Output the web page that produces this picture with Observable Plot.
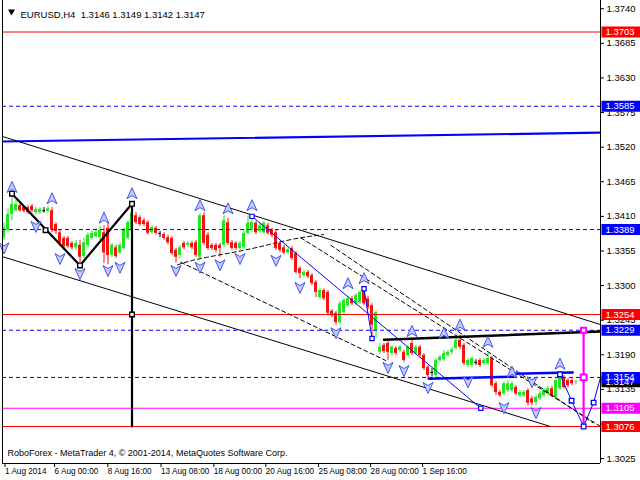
<!DOCTYPE html>
<html><head><meta charset="utf-8">
<script src="https://cdn.jsdelivr.net/npm/d3@7"></script>
<script src="https://cdn.jsdelivr.net/npm/@observablehq/plot@0.6"></script>
<style>body{margin:0;background:#fff} #chart svg{display:block}</style>
</head><body><div id="chart"></div>
<script>
// ---- data (EURUSD H4, bar index 0 = 1 Aug 2014 00:00) ----
const opens = [1.3376,1.3388,1.3413,1.3419,1.3427,1.3424,1.3424,1.3426,1.3416,1.3416,
1.3419,1.3418,1.3419,1.3397,1.3384,1.3375,1.3375,1.3367,1.3360,1.3364,
1.3346,1.3364,1.3375,1.3378,1.3376,1.3384,1.3391,1.3348,1.3360,1.3352,
1.3359,1.3375,1.3388,1.3411,1.3408,1.3403,1.3400,1.3384,1.3391,1.3383,
1.3381,1.3376,1.3375,1.3356,1.3348,1.3367,1.3364,1.3367,1.3368,1.3345,
1.3411,1.3380,1.3364,1.3364,1.3364,1.3364,1.3400,1.3368,1.3367,1.3359,
1.3360,1.3383,1.3388,1.3399,1.3386,1.3384,1.3395,1.3388,1.3384,1.3367,
1.3360,1.3352,1.3359,1.3351,1.3327,1.3316,1.3321,1.3316,1.3305,1.3281,
1.3292,1.3289,1.3259,1.3256,1.3241,1.3257,1.3268,1.3279,1.3271,1.3273,
1.3292,1.3279,1.3268,1.3229,1.3194,1.3205,1.3208,1.3192,1.3200,1.3197,
1.3194,1.3189,1.3208,1.3192,1.3202,1.3189,1.3170,1.3162,1.3157,1.3181,
1.3182,1.3189,1.3194,1.3200,1.3213,1.3205,1.3173,1.3173,1.3178,1.3181,
1.3176,1.3176,1.3184,1.3144,1.3130,1.3128,1.3133,1.3133,1.3138,1.3125,
1.3125,1.3133,1.3120,1.3114,1.3120,1.3125,1.3128,1.3136,1.3122,1.3136,
1.3154,1.3149,1.3149,1.3146];
const highs = [1.3400,1.3422,1.3446,1.3435,1.3430,1.3427,1.3427,1.3429,1.3424,1.3424,
1.3424,1.3426,1.3424,1.3400,1.3388,1.3378,1.3378,1.3370,1.3372,1.3372,
1.3375,1.3384,1.3388,1.3391,1.3394,1.3395,1.3400,1.3367,1.3364,1.3367,
1.3392,1.3403,1.3430,1.3416,1.3411,1.3407,1.3403,1.3395,1.3394,1.3386,
1.3384,1.3380,1.3378,1.3359,1.3364,1.3370,1.3370,1.3370,1.3372,1.3415,
1.3416,1.3384,1.3367,1.3367,1.3367,1.3411,1.3407,1.3372,1.3370,1.3370,
1.3388,1.3411,1.3410,1.3402,1.3399,1.3402,1.3399,1.3391,1.3388,1.3370,
1.3364,1.3360,1.3362,1.3354,1.3330,1.3324,1.3324,1.3319,1.3308,1.3295,
1.3295,1.3292,1.3262,1.3259,1.3275,1.3279,1.3283,1.3283,1.3287,1.3292,
1.3295,1.3283,1.3271,1.3260,1.3208,1.3208,1.3211,1.3205,1.3203,1.3205,
1.3197,1.3205,1.3213,1.3205,1.3205,1.3192,1.3173,1.3168,1.3184,1.3189,
1.3197,1.3197,1.3202,1.3216,1.3221,1.3208,1.3184,1.3187,1.3182,1.3184,
1.3184,1.3194,1.3187,1.3147,1.3133,1.3147,1.3149,1.3147,1.3141,1.3133,
1.3133,1.3136,1.3124,1.3125,1.3132,1.3136,1.3140,1.3140,1.3152,1.3159,
1.3157,1.3152,1.3152,1.3149];
const lows = [1.3372,1.3384,1.3403,1.3416,1.3416,1.3415,1.3413,1.3416,1.3413,1.3413,
1.3415,1.3415,1.3384,1.3381,1.3362,1.3356,1.3359,1.3356,1.3356,1.3336,
1.3343,1.3360,1.3372,1.3375,1.3372,1.3335,1.3333,1.3345,1.3343,1.3349,
1.3356,1.3372,1.3384,1.3397,1.3394,1.3394,1.3380,1.3381,1.3380,1.3376,
1.3372,1.3365,1.3348,1.3336,1.3343,1.3357,1.3360,1.3357,1.3345,1.3341,
1.3364,1.3356,1.3356,1.3352,1.3345,1.3360,1.3364,1.3356,1.3356,1.3356,
1.3357,1.3380,1.3384,1.3381,1.3383,1.3381,1.3380,1.3376,1.3356,1.3352,
1.3349,1.3349,1.3340,1.3318,1.3311,1.3313,1.3311,1.3300,1.3281,1.3278,
1.3276,1.3252,1.3249,1.3237,1.3238,1.3254,1.3265,1.3268,1.3268,1.3270,
1.3268,1.3262,1.3216,1.3216,1.3190,1.3192,1.3181,1.3189,1.3189,1.3194,
1.3178,1.3186,1.3189,1.3189,1.3186,1.3165,1.3152,1.3155,1.3154,1.3178,
1.3179,1.3186,1.3190,1.3197,1.3198,1.3173,1.3170,1.3170,1.3173,1.3170,
1.3173,1.3173,1.3138,1.3125,1.3122,1.3125,1.3130,1.3130,1.3125,1.3122,
1.3122,1.3109,1.3109,1.3109,1.3117,1.3122,1.3125,1.3122,1.3119,1.3133,
1.3135,1.3138,1.3141,1.3142];
const closes = [1.3392,1.3413,1.3429,1.3429,1.3419,1.3418,1.3416,1.3419,1.3421,1.3421,
1.3419,1.3422,1.3388,1.3386,1.3365,1.3362,1.3362,1.3360,1.3367,1.3345,
1.3368,1.3380,1.3383,1.3384,1.3388,1.3352,1.3348,1.3364,1.3346,1.3364,
1.3388,1.3400,1.3415,1.3400,1.3397,1.3397,1.3383,1.3392,1.3383,1.3383,
1.3375,1.3368,1.3351,1.3345,1.3360,1.3360,1.3367,1.3360,1.3348,1.3411,
1.3367,1.3359,1.3359,1.3356,1.3359,1.3403,1.3367,1.3359,1.3359,1.3367,
1.3383,1.3399,1.3400,1.3384,1.3395,1.3399,1.3383,1.3380,1.3359,1.3356,
1.3352,1.3357,1.3343,1.3321,1.3319,1.3321,1.3314,1.3303,1.3289,1.3292,
1.3279,1.3256,1.3252,1.3241,1.3271,1.3276,1.3279,1.3271,1.3284,1.3289,
1.3271,1.3265,1.3237,1.3257,1.3202,1.3195,1.3194,1.3202,1.3192,1.3202,
1.3181,1.3202,1.3192,1.3202,1.3189,1.3168,1.3157,1.3162,1.3181,1.3186,
1.3192,1.3194,1.3198,1.3213,1.3202,1.3176,1.3181,1.3184,1.3178,1.3173,
1.3181,1.3184,1.3141,1.3130,1.3125,1.3144,1.3144,1.3144,1.3128,1.3130,
1.3130,1.3113,1.3113,1.3122,1.3128,1.3133,1.3136,1.3125,1.3149,1.3157,
1.3138,1.3141,1.3144,1.3147];

const xTickIdx = [0, 12.4, 25.7, 39, 52.2, 65.2, 78.4, 91.4, 104.4];
const xTickLabels = ["1 Aug 2014","6 Aug 00:00","8 Aug 16:00","13 Aug 08:00","18 Aug 00:00","20 Aug 16:00","25 Aug 08:00","28 Aug 00:00","1 Sep 16:00"];
const yTicks = [1.3740,1.3685,1.3630,1.3575,1.3520,1.3465,1.3410,1.3355,1.3300,1.3245,1.3190,1.3135,1.3080,1.3025];

const solidLevels = [{p:1.3703,color:"#ff0000"},{p:1.3254,color:"#ff0000"},{p:1.3105,color:"#ff00ff"},{p:1.3076,color:"#ff0000"}];
const dashedLevels = [1.3585, 1.3389, 1.3229, 1.3154];
const priceTags = [
  {p:1.3703,color:"#ff0000"},{p:1.3585,color:"#0000ff"},{p:1.3389,color:"#0000ff"},
  {p:1.3254,color:"#ff0000"},{p:1.3229,color:"#0000ff"},{p:1.3147,color:"#000000"},
  {p:1.3154,color:"#0000ff"},{p:1.3105,color:"#ff00ff"},{p:1.3076,color:"#ff0000"}];

const blueTrend = [{i:-0.375,p:1.3529},{i:149.125,p:1.3543}];
const channelUpper = [{i:-0.375,p:1.3537},{i:149.125,p:1.3238}];
const channelLower = [{i:-0.375,p:1.3346},{i:136.6,p:1.3076}];
const zigzag = [{i:2,p:1.3446},{i:19,p:1.3332},{i:32,p:1.3430},{i:32,p:1.3076}];
const zigzagSquares = [{i:2,p:1.3446},{i:10.4,p:1.3388},{i:19,p:1.3332},{i:32,p:1.3430},{i:32,p:1.3254}];
const arc = [{i:43.4,p:1.3333},{i:49.2,p:1.3343},{i:59.9,p:1.3356},{i:67.4,p:1.3367},{i:74.2,p:1.3376},{i:79.9,p:1.3381}];
const dash1 = [{i:44.2,p:1.3337},{i:95.4,p:1.3181}];
const dash2 = [{i:74.2,p:1.3376},{i:149.125,p:1.3076}];
const dash3 = [{i:81.7,p:1.3364},{i:147.2,p:1.3082}];
const blueThin = [{i:62,p:1.3410},{i:119.2,p:1.3105}];
const blueShort = [{i:90,p:1.3295},{i:92,p:1.3216}];
const blueSquares = [{i:62,p:1.3410},{i:119.2,p:1.3105},{i:90,p:1.3295},{i:92,p:1.3216}];
const forecast = [{i:139,p:1.3159},{i:141.9,p:1.3117},{i:144.9,p:1.3076},{i:147.4,p:1.3114},{i:149.125,p:1.3154}];
const magentaBar = [{i:144.9,p:1.3229},{i:144.9,p:1.3076}];
const magentaSquares = [{i:144.9,p:1.3229,r:2.6},{i:144.9,p:1.3154,r:3.4}];
const blackLevel = [{i:95,p:1.3214},{i:149.125,p:1.3227}];
const blueLevelA = [{i:106.2,p:1.3152},{i:127.2,p:1.3155}];
const blueLevelB = [{i:127.2,p:1.3160},{i:142.2,p:1.3162}];

const fractalUp = [{i:2,p:1.3456},{i:12,p:1.3438},{i:25,p:1.3407},{i:32,p:1.3446},{i:49,p:1.3427},{i:56,p:1.3422},{i:62,p:1.3427},
  {i:86,p:1.3303},{i:90,p:1.3311},{i:102,p:1.3227},{i:110,p:1.3224},{i:114,p:1.3237},{i:121,p:1.3210},{i:127,p:1.3162},{i:139,p:1.3175}];
const fractalDown = [{i:0,p:1.3360},{i:8,p:1.3394},{i:14,p:1.3343},{i:19,p:1.3319},{i:26,p:1.3324},{i:29,p:1.3329},{i:43,p:1.3324},
  {i:49,p:1.3329},{i:54,p:1.3333},{i:59,p:1.3343},{i:68,p:1.3340},{i:74,p:1.3297},{i:83,p:1.3225},{i:96,p:1.3170},{i:100,p:1.3165},
  {i:106,p:1.3138},{i:116,p:1.3147},{i:125,p:1.3106},{i:132,p:1.3147},{i:133,p:1.3098}];

const header = "EURUSD,H4\u00a0\u00a01.3146 1.3149 1.3142 1.3147";
const caption = "RoboForex - MetaTrader 4, \u00a9 2001-2014, MetaQuotes Software Corp.";

// ---- build ----
const candles = opens.map((o, i) => ({i, o, h: highs[i], l: lows[i], c: closes[i]}));
const UP = "#22e622", DN = "#f41212";
const candleColor = d => d.c > d.o ? UP : d.c < d.o ? DN : "#000000";

const arrowUp = {draw(ctx){ctx.moveTo(0,-6);ctx.lineTo(5,5);ctx.lineTo(0,2);ctx.lineTo(-5,5);ctx.closePath();}};
const arrowDown = {draw(ctx){ctx.moveTo(0,6);ctx.lineTo(5,-5);ctx.lineTo(0,-2);ctx.lineTo(-5,-5);ctx.closePath();}};
const tagBox = {draw(ctx){ctx.rect(1,-5.5,40,11);}};

const FONT = "Liberation Sans, Arial, sans-serif";

const chart = Plot.plot({
  width: 640, height: 480,
  marginLeft: 2, marginRight: 40, marginTop: 0, marginBottom: 17,
  style: {fontFamily: FONT, fontSize: "9px", background: "#fff", color: "#000"},
  x: {domain: [-0.375, 149.125], axis: null},
  y: {domain: [1.30172, 1.37531], axis: null},
  color: {type: "identity"},
  marks: [
    // candles
    Plot.ruleX(candles, {x: "i", y1: "l", y2: "h", stroke: candleColor, strokeWidth: 1}),
    Plot.rect(candles.filter(d => d.o !== d.c), {x1: d => d.i - 0.5, x2: d => d.i + 0.5, y1: "o", y2: "c", fill: candleColor, insetLeft: 0.5, insetRight: 0.5}),
    Plot.ruleY(candles.filter(d => d.o === d.c), {y: "c", x1: d => d.i - 0.375, x2: d => d.i + 0.375, stroke: "#000", strokeWidth: 1}),

    // horizontal levels
    Plot.ruleY(solidLevels, {y: "p", stroke: "color", strokeWidth: 1}),
    Plot.ruleY(dashedLevels, {y: d => d, stroke: "#0000ff", strokeWidth: 1, strokeDasharray: "4,3"}),

    // trend lines & channels
    Plot.line(blueTrend, {x: "i", y: "p", stroke: "#0000ff", strokeWidth: 2.2, clip: true}),
    Plot.line(channelUpper, {x: "i", y: "p", stroke: "#000", strokeWidth: 1, clip: true}),
    Plot.line(channelLower, {x: "i", y: "p", stroke: "#000", strokeWidth: 1, clip: true}),
    Plot.line(arc, {x: "i", y: "p", curve: "natural", stroke: "#000", strokeWidth: 1, strokeDasharray: "4,3"}),
    Plot.line(dash1, {x: "i", y: "p", stroke: "#000", strokeWidth: 1, strokeDasharray: "4,3"}),
    Plot.line(dash2, {x: "i", y: "p", stroke: "#000", strokeWidth: 1, strokeDasharray: "4,3", clip: true}),
    Plot.line(dash3, {x: "i", y: "p", stroke: "#000", strokeWidth: 1, strokeDasharray: "4,3"}),
    Plot.line(blueThin, {x: "i", y: "p", stroke: "#0000ff", strokeWidth: 1}),
    Plot.line(blueShort, {x: "i", y: "p", stroke: "#0000ff", strokeWidth: 1}),
    Plot.line(blackLevel, {x: "i", y: "p", stroke: "#000", strokeWidth: 2.5, clip: true}),
    Plot.line(blueLevelA, {x: "i", y: "p", stroke: "#0000ff", strokeWidth: 2.5}),
    Plot.line(blueLevelB, {x: "i", y: "p", stroke: "#0000ff", strokeWidth: 2.5}),
    Plot.line(zigzag, {x: "i", y: "p", stroke: "#000", strokeWidth: 2.2}),
    Plot.line(magentaBar, {x: "i", y: "p", stroke: "#ff00ff", strokeWidth: 2.2}),
    Plot.line(forecast, {x: "i", y: "p", stroke: "#0000ff", strokeWidth: 1, clip: true}),

    // square markers
    Plot.dot(zigzagSquares, {x: "i", y: "p", symbol: "square", r: 2.6, fill: "#fff", stroke: "#000", strokeWidth: 1.4}),
    Plot.dot(blueSquares, {x: "i", y: "p", symbol: "square", r: 2.4, fill: "#fff", stroke: "#0000ff", strokeWidth: 1.2}),
    Plot.dot(forecast.slice(0, 4), {x: "i", y: "p", symbol: "square", r: 2.6, fill: "#fff", stroke: "#0000ff", strokeWidth: 1.3}),
    Plot.dot(magentaSquares, {x: "i", y: "p", r: "r", symbol: "square", fill: "#fff", stroke: "#ff00ff", strokeWidth: 2}),

    // fractal arrows
    Plot.dot(fractalUp, {x: "i", y: "p", symbol: arrowUp, fill: "#c4c8ff", stroke: "#4656e6", strokeWidth: 1}),
    Plot.dot(fractalDown, {x: "i", y: "p", symbol: arrowDown, fill: "#c4c8ff", stroke: "#4656e6", strokeWidth: 1}),

    // frame
    Plot.ruleX([-0.375], {stroke: "#000"}),
    Plot.ruleX([149.125], {stroke: "#000"}),
    Plot.ruleY([1.30172], {stroke: "#000"}),

    // axes
    Plot.axisY({anchor: "right", label: null, ticks: yTicks, tickFormat: d => d.toFixed(4), tickSize: 3, tickPadding: 3, fontSize: 9.5, fill: "#000"}),
    Plot.axisX({anchor: "bottom", label: null, ticks: xTickIdx, tickFormat: d => xTickLabels[xTickIdx.indexOf(d)], tickSize: 4, tickPadding: 1, textAnchor: "start", dx: 1, fontSize: 8.2, fill: "#000"}),

    // price tags
    Plot.dot(priceTags, {y: "p", frameAnchor: "right", symbol: tagBox, fill: "color", stroke: null}),
    Plot.text(priceTags, {y: "p", frameAnchor: "right", text: d => d.p.toFixed(4), dx: 5, textAnchor: "start", fill: "#fff", fontSize: 9.5}),

    // header & caption
    Plot.dot([0], {frameAnchor: "top-left", dx: 9, dy: 11, symbol: "triangle", r: 2.6, rotate: 180, fill: "#000"}),
    Plot.text([header], {frameAnchor: "top-left", dx: 18, dy: 11, text: d => d, textAnchor: "start", fontSize: 9.5, fill: "#000"}),
    Plot.text([caption], {frameAnchor: "bottom-left", dx: 5, dy: -8, text: d => d, textAnchor: "start", fontSize: 9, fill: "#000"})
  ]
});
document.getElementById("chart").appendChild(chart);
</script>
</body></html>
